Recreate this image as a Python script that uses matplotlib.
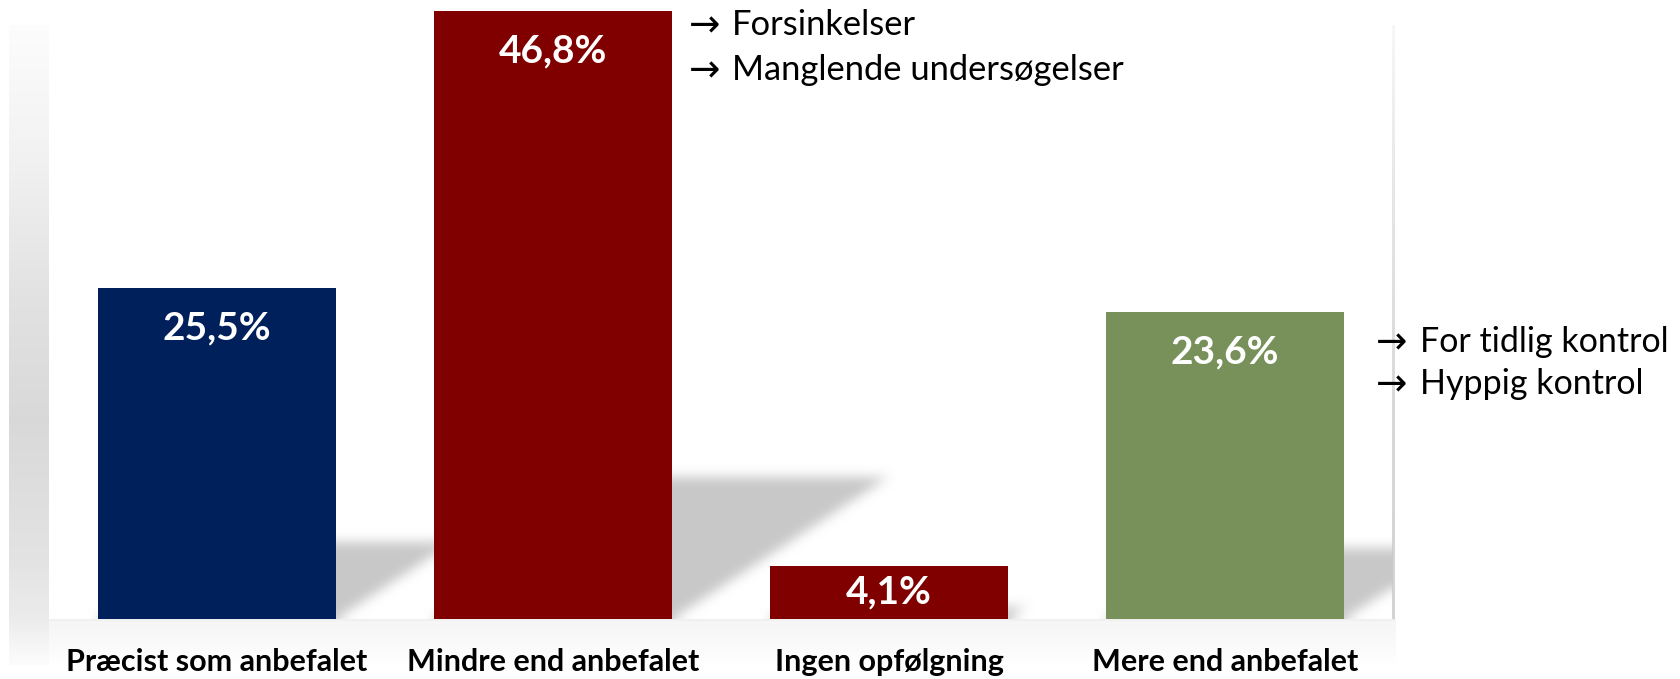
import numpy as np
import matplotlib
matplotlib.use("Agg")
import matplotlib.pyplot as plt

plt.rcParams['font.family'] = ['Lato', 'DejaVu Sans']

# ---------------- data ----------------
categories = ["Præcist som anbefalet", "Mindre end anbefalet", "Ingen opfølgning", "Mere end anbefalet"]
values = [25.5, 46.8, 4.1, 23.6]
value_labels = ["25,5%", "46,8%", "4,1%", "23,6%"]
bar_colors = ["#00205B", "#800000", "#800000", "#78915A"]
notes_top = ["Forsinkelser", "Manglende undersøgelser"]
notes_right = ["For tidlig kontrol", "Hyppig kontrol"]

W, H = 1681, 679
fig = plt.figure(figsize=(W / 100, H / 100), dpi=100)
fig.patch.set_facecolor("white")

# ---------------- decorative background (pixel coordinates) ----------------
bg = fig.add_axes([0, 0, 1, 1], zorder=0)
bg.set_xlim(0, W)
bg.set_ylim(H, 0)
bg.axis("off")

# left "wall" strip
ys = np.arange(25, 666)
wall = np.interp(ys, [25, 150, 300, 420, 560, 620, 665],
                 [0.99, 0.95, 0.885, 0.85, 0.89, 0.925, 0.99])
wall_img = np.repeat(wall[:, None], 2, axis=1)
bg.imshow(np.dstack([wall_img] * 3), extent=(9, 49, 665, 25), origin="upper",
          aspect="auto", interpolation="bilinear")

# floor strip
yf = np.arange(619, 666)
floor = np.interp(yf, [619, 622, 640, 665], [0.94, 0.965, 0.975, 1.0])
floor_img = np.repeat(floor[:, None], 2, axis=1)
bg.imshow(np.dstack([floor_img] * 3), extent=(49, 1396, 665, 619), origin="upper",
          aspect="auto", interpolation="bilinear")

# right edge line
yr = np.arange(25, 620)
redge = np.interp(yr, [25, 200, 400, 619], [0.97, 0.9, 0.85, 0.83])
redge_img = np.repeat(redge[:, None], 2, axis=1)
bg.imshow(np.dstack([redge_img] * 3), extent=(1392, 1395, 619, 25), origin="upper",
          aspect="auto", interpolation="bilinear")
bg.set_xlim(0, W)
bg.set_ylim(H, 0)

# ---------------- main axes ----------------
ax = fig.add_axes([49 / W, (H - 619) / H, 1344 / W, 594 / H], zorder=1)
ax.set_facecolor("none")
x = np.arange(len(categories))
x0, x1 = -0.5, 3.5
y0, y1 = 0, 594 / 13.0
ax.set_xlim(x0, x1)
ax.set_ylim(y0, y1)
bar_w = 0.711

# perspective shadows, derived from the bars through the axes scale
bbox = ax.get_window_extent()
pxx = bbox.width / (x1 - x0)
pxy = bbox.height / (y1 - y0)
nx, ny = int(round(bbox.width)), int(round(bbox.height))
XX = (np.arange(nx) + 0.5)[None, :]
YY = (np.arange(ny) + 0.5)[:, None]
mask = np.zeros((ny, nx))
k_h, shear = 0.233, 1.52
for xi, v in zip(x, values):
    L = (xi - bar_w / 2 - x0) * pxx
    R = (xi + bar_w / 2 - x0) * pxx
    sh = k_h * v * pxy
    inside = (YY <= sh) & (XX >= L + shear * YY) & (XX <= R + shear * YY)
    mask = np.maximum(mask, inside.astype(float))


def box_blur(a, r):
    k = 2 * r + 1
    p = np.pad(a, ((0, 0), (r + 1, r)), mode="edge")
    c = np.cumsum(p, axis=1)
    a = (c[:, k:] - c[:, :-k]) / k
    p = np.pad(a, ((r + 1, r), (0, 0)), mode="edge")
    c = np.cumsum(p, axis=0)
    return (c[k:, :] - c[:-k, :]) / k


for _ in range(3):
    mask = box_blur(mask, 5)
rgba = np.zeros((ny, nx, 4))
rgba[..., :3] = 0.785
rgba[..., 3] = np.clip(mask, 0, 1)
ax.imshow(rgba, extent=(x0, x1, y0, y1), origin="lower", aspect="auto",
          interpolation="nearest", zorder=1)
ax.set_xlim(x0, x1)
ax.set_ylim(y0, y1)

ax.bar(x, values, width=bar_w, color=bar_colors, zorder=3, clip_on=False)

for xi, v, lab in zip(x, values, value_labels):
    yc = v - min(40 / pxy, v / 2)
    ax.text(xi, yc, lab, ha="center", va="center", color="white",
            fontsize=28, fontweight="bold", zorder=4)

ax.set_xticks(x)
ax.set_xticklabels(categories, fontsize=22, fontweight="bold")
for lbl in ax.get_xticklabels():
    lbl.set_va("baseline")
ax.tick_params(axis="x", length=0, pad=52 * 0.72)
ax.set_yticks([])
for s in ax.spines.values():
    s.set_visible(False)

# ---------------- annotations ----------------
for i, t in enumerate(notes_top):
    bg.text(689, 36 + i * 45, "→", fontsize=27, ha="left", va="baseline",
            color="black", family="DejaVu Sans")
    bg.text(732, 35 + i * 45, t, fontsize=24.8, ha="left", va="baseline", color="black")
for i, t in enumerate(notes_right):
    bg.text(1376, 353 + i * 42, "→", fontsize=27, ha="left", va="baseline",
            color="black", family="DejaVu Sans")
    bg.text(1420, 352 + i * 42, t, fontsize=24.5, ha="left", va="baseline", color="black")

fig.savefig("out.png", dpi=100, facecolor="white")
